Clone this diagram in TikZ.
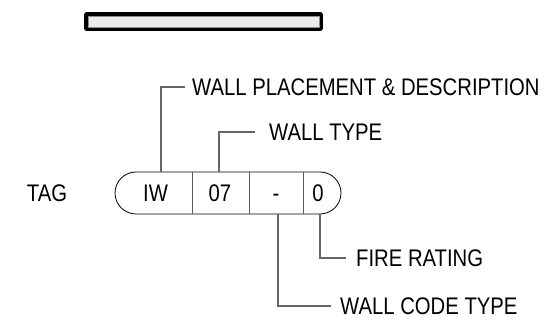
\documentclass[tikz,border=0pt]{standalone}
\usepackage{fontspec}
\setmainfont{Liberation Sans}[FakeStretch=0.845]
\usetikzlibrary{shapes.misc}

\begin{document}
\begin{tikzpicture}[
  x=1pt, y=-1pt,
  font=\fontsize{24}{28}\selectfont,
  tagbox/.style={
    draw,
    rounded rectangle,
    minimum width=226pt,
    minimum height=42pt,
    inner sep=0pt,
    line width=0.8pt
  },
  cell/.style={inner sep=0pt, text height=17.2pt, text depth=0pt},
  lbl/.style={
    anchor=west,
    inner xsep=8pt,
    inner ysep=0pt,
    text height=17.2pt,
    text depth=0pt
  },
  lead/.style={draw=black!60, line width=1.1pt},
  sep/.style={draw=black!65, line width=1pt}
]
\useasboundingbox (0,0) rectangle (557,328);

% wall bar
\draw[line width=3.8pt, fill=black!8, rounded corners=0.8pt]
  (86,14) rectangle (321,29);
\draw[black!45, line width=0.5pt] (87.9,15.9) rectangle (319.1,27.1);

% tag
\node[cell] (tag) at (47,193) {TAG};
\node[tagbox] (pill) at (228,193) {};

\foreach \x in {192,249,303}
  \draw[sep] (\x,0 |- pill.north) -- (\x,0 |- pill.south);

\node[cell] (iw) at (155.5,193) {IW};
\node[cell] (n07) at (220,193) {07};
\node[cell] (dash) at (276,193) {-};
\node[cell] (n0) at (318,193) {0};

% leaders
\node[lbl, inner xsep=7pt] (wpd) at (185,87) {WALL PLACEMENT \& DESCRIPTION};
\node[lbl, inner xsep=14pt] (wt) at (255,132) {WALL TYPE};
\node[lbl, inner xsep=10pt] (fr) at (346,258) {FIRE RATING};
\node[lbl, inner xsep=9pt] (wct) at (331,306) {WALL CODE TYPE};

\draw[lead] (161,0 |- pill.north) |- (wpd.west);
\draw[lead] (219,0 |- pill.north) |- (wt.west);
\draw[lead] (320,0 |- pill.south) |- (fr.west);
\draw[lead] (278,0 |- pill.south) |- (wct.west);

\end{tikzpicture}
\end{document}
